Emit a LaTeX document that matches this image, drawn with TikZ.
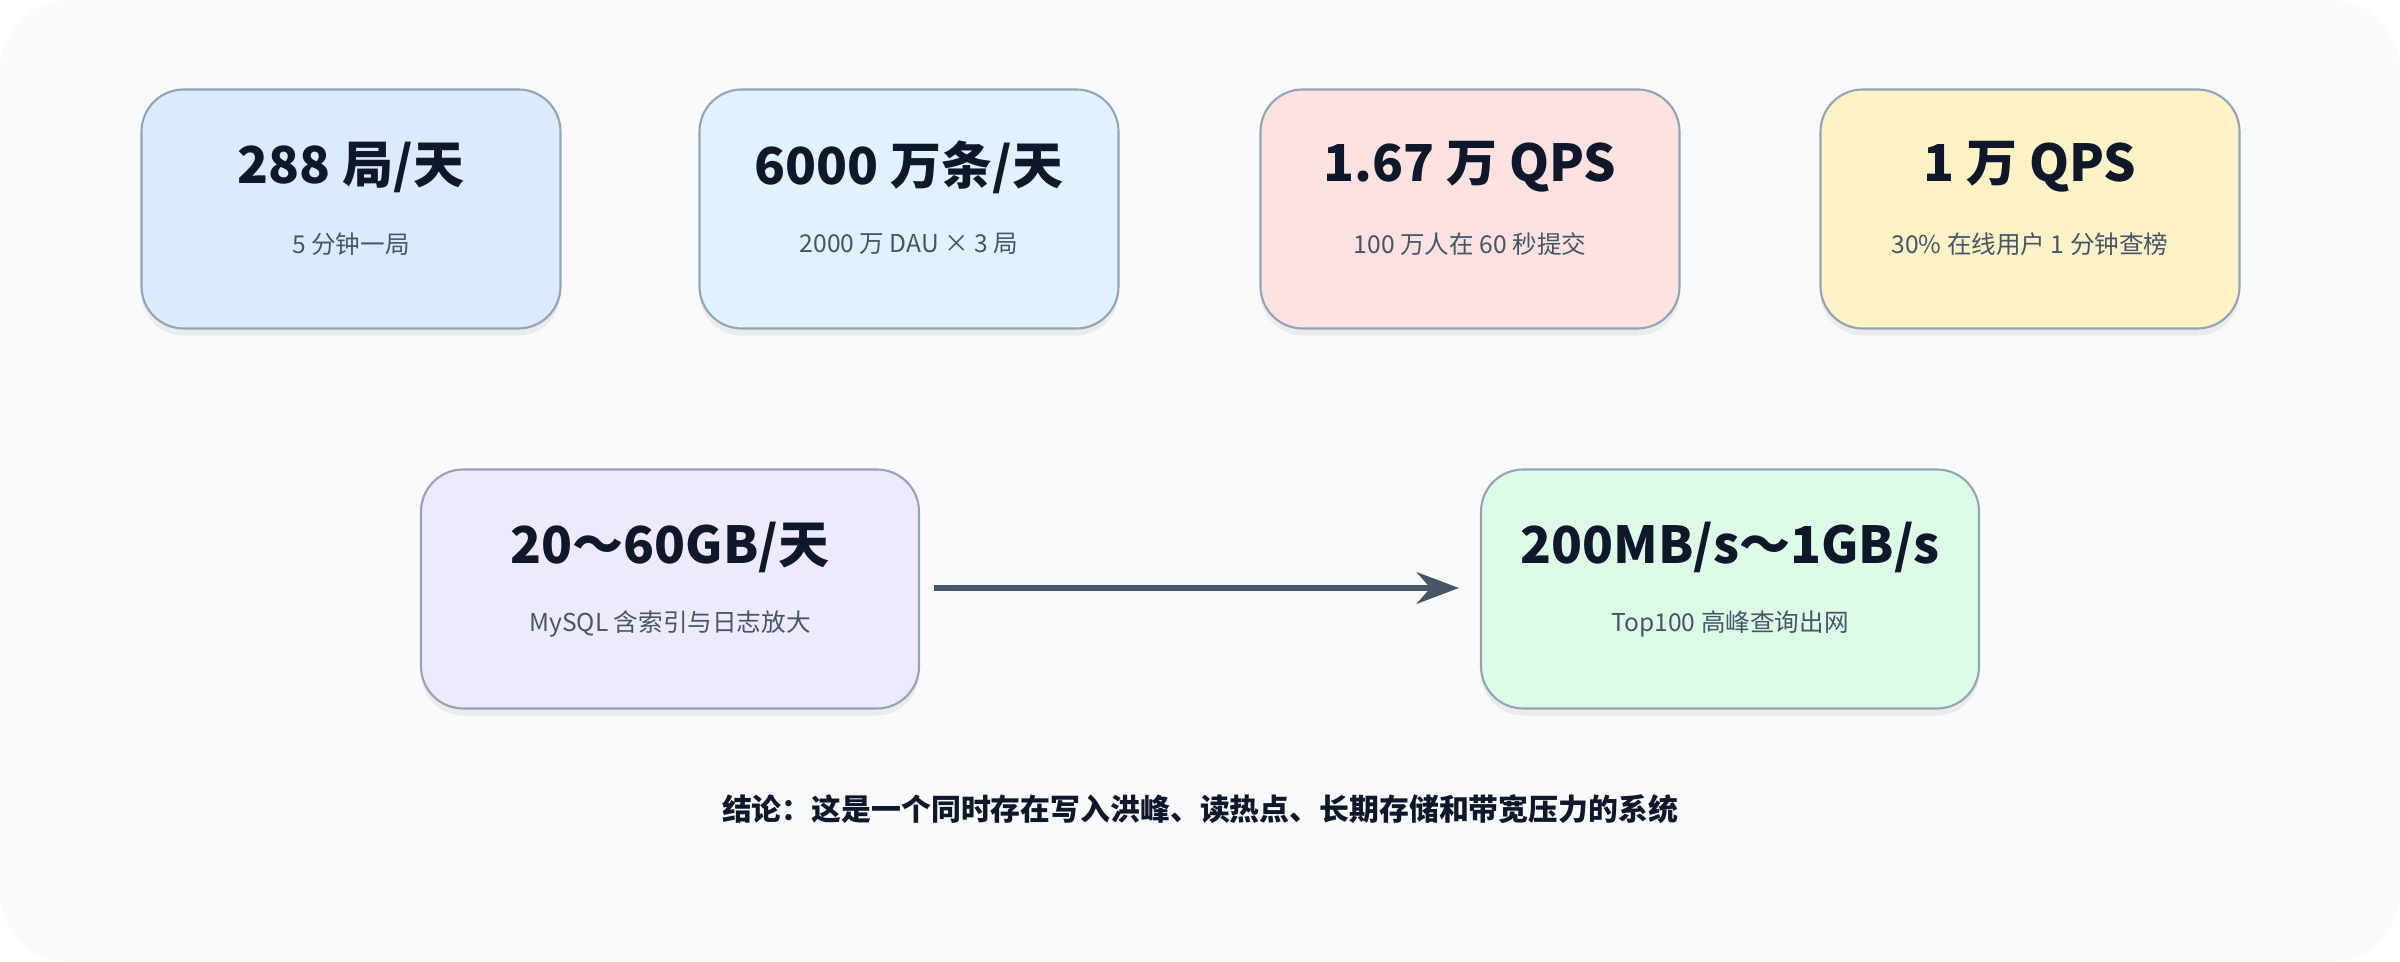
\documentclass[tikz,border=0pt]{standalone}
\usepackage{fontspec}
\setmainfont{Noto Sans CJK SC}
\usetikzlibrary{arrows.meta,shadows}
\definecolor{bgpanel}{HTML}{F8FAFC}
\definecolor{boxline}{HTML}{94A3B8}
\definecolor{titletext}{HTML}{0F172A}
\definecolor{subtext}{HTML}{475569}
\definecolor{fillblue}{HTML}{DBEAFE}
\definecolor{fillsky}{HTML}{E0F2FE}
\definecolor{fillred}{HTML}{FEE2E2}
\definecolor{fillyellow}{HTML}{FEF3C7}
\definecolor{fillviolet}{HTML}{EDE9FE}
\definecolor{fillgreen}{HTML}{DCFCE7}
\tikzset{
  metricbox/.style={draw=boxline, line width=0.6pt, rounded corners=12pt,
    minimum height=2.39cm, drop shadow={opacity=0.12, shadow xshift=0pt, shadow yshift=-2pt}},
  bigtext/.style={font=\fontsize{14.5}{16}\selectfont\bfseries, text=titletext},
  smalltext/.style={font=\fontsize{7}{8}\selectfont, text=subtext}
}
\begin{document}
\begin{tikzpicture}
  \fill[bgpanel, rounded corners=20pt] (0,0) rectangle (24,9.62);
  \useasboundingbox (0,0) rectangle (24,9.62);

  % Erste Reihe
  \node[metricbox, fill=fillblue, minimum width=4.19cm] (perday) at (3.51,7.53) {};
  \node[metricbox, fill=fillsky, minimum width=4.19cm] (records) at (9.09,7.53) {};
  \node[metricbox, fill=fillred, minimum width=4.19cm] (writeqps) at (14.70,7.53) {};
  \node[metricbox, fill=fillyellow, minimum width=4.19cm] (readqps) at (20.30,7.53) {};

  \node[bigtext] (perdayt) at (3.51,7.95) {288 局/天};
  \node[smalltext] (perdays) at (3.51,7.18) {5 分钟一局};
  \node[bigtext] (recordst) at (9.09,7.95) {6000 万条/天};
  \node[smalltext] (recordss) at (9.09,7.18) {2000 万 DAU × 3 局};
  \node[bigtext] (writeqpst) at (14.70,7.95) {1.67 万 QPS};
  \node[smalltext] (writeqpss) at (14.70,7.18) {100 万人在 60 秒提交};
  \node[bigtext] (readqpst) at (20.30,7.95) {1 万 QPS};
  \node[smalltext] (readqpss) at (20.30,7.18) {30\% 在线用户 1 分钟查榜};

  % Zweite Reihe
  \node[metricbox, fill=fillviolet, minimum width=4.98cm] (storage) at (6.70,3.73) {};
  \node[metricbox, fill=fillgreen, minimum width=4.98cm] (bandwidth) at (17.30,3.73) {};

  \node[bigtext] (storaget) at (6.70,4.15) {20～60GB/天};
  \node[smalltext] (storages) at (6.70,3.38) {MySQL 含索引与日志放大};
  \node[bigtext] (bandwidtht) at (17.30,4.15) {200MB/s～1GB/s};
  \node[smalltext] (bandwidths) at (17.30,3.38) {Top100 高峰查询出网};

  % Verbindung
  \draw[-{Stealth[length=12pt,width=9pt]}, line width=1.6pt, draw=subtext]
    ([xshift=4pt]storage.east |- 0,3.74) -- ([xshift=-6pt]bandwidth.west |- 0,3.74);

  \node[font=\fontsize{8.5}{10}\selectfont\bfseries, text=titletext] (summary) at (12.0,1.53)
    {结论：这是一个同时存在写入洪峰、读热点、长期存储和带宽压力的系统};
\end{tikzpicture}
\end{document}
